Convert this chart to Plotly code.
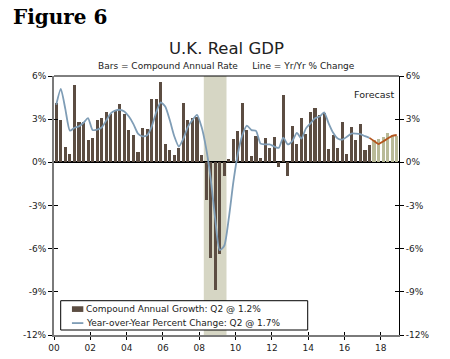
import plotly.graph_objects as go

# ---- data (quarterly, 2000Q1 .. 2018Q4) ----
years = list(range(2000, 2019))
quarters = [1, 2, 3, 4]
compound_annual = [
    4.1, 2.94, 1.1, 0.6,
    5.36, 2.78, 2.78, 1.58,
    1.67, 2.94, 3.06, 3.53,
    3.34, 3.65, 4.05, 3.34,
    2.24, 1.88, 0.73, 2.42,
    2.33, 4.38, 4.42, 5.58,
    1.29, 0.87, 0.54, 1.01,
    4.12, 2.96, 3.06, 3.18,
    0.54, -2.64, -6.68, -8.85,
    -6.4, -0.92, 0.24, 1.6,
    2.19, 4.13, 2.24, 0.42,
    1.8, 0.3, 1.72, 0.97,
    1.77, -0.35, 4.67, -0.94,
    2.52, 1.3, 3.07, 1.96,
    3.47, 3.77, 3.3, 3.42,
    0.94, 1.93, 1.01, 2.78,
    0.59, 2.43, 1.53, 2.67,
    0.83, 1.18, 1.58, 1.65,
    1.77, 2.05, 1.89, 1.84,
]
yoy = [
    4.0, 5.1, 3.7, 2.2,
    2.4, 2.5, 2.75, 3.08,
    2.24, 2.28, 2.42, 2.9,
    3.41, 3.6, 3.65, 3.53,
    3.18, 2.66, 2.0, 1.81,
    1.88, 2.47, 3.46, 4.16,
    3.88, 2.94, 1.81, 1.1,
    1.65, 2.47, 2.94, 3.3,
    2.47, 1.0, -1.1, -3.9,
    -6.1, -5.8, -3.9, -1.4,
    0.6, 1.9, 2.55, 2.24,
    2.19, 1.3, 1.25, 1.25,
    1.1, 1.0, 1.72, 1.25,
    1.48, 2.05, 1.65, 2.36,
    2.71, 3.07, 3.18, 3.47,
    2.71, 2.05, 1.65, 1.58,
    1.77, 2.0, 2.0, 1.96,
    1.82, 1.7, 1.48, 1.27,
    1.45, 1.65, 1.84, 1.9,
]
n_actual = 70  # last actual quarter: 2017Q2
recession = (2008.25, 2009.5)
tick_years = list(range(2000, 2019, 2))
tick_labels = [f"{y % 100:02d}" for y in tick_years]
y_ticks = [-12, -9, -6, -3, 0, 3, 6]
y_labels = [f"{v}%" for v in y_ticks]
legend_labels = ["Compound Annual Growth: Q2 @ 1.2%",
                 "Year-over-Year Percent Change: Q2 @ 1.7%"]

# quarter positions (mid-quarter, in years)
xq = [y + (q - 0.5) / 4 for y in years for q in quarters]

BAR = "#5c4d42"
BAR_F = "#b9ba98"
LINE = "#7f9db6"
LINE_F = "#b4561e"
SHADE = "#d6d6c4"
FONT = "DejaVu Sans"

fig = go.Figure()
fig.add_trace(go.Bar(x=xq[:n_actual], y=compound_annual[:n_actual], width=0.17,
                     marker=dict(color=BAR, line=dict(width=0)), name=legend_labels[0]))
fig.add_trace(go.Bar(x=xq[n_actual:], y=compound_annual[n_actual:], width=0.17,
                     marker=dict(color=BAR_F, line=dict(width=0))))
fig.add_trace(go.Scatter(x=xq[:n_actual], y=yoy[:n_actual], mode="lines",
                         line=dict(color=LINE, width=1.8, shape="spline", smoothing=0.6),
                         name=legend_labels[1]))
fig.add_trace(go.Scatter(x=xq[n_actual - 1:], y=yoy[n_actual - 1:], mode="lines",
                         line=dict(color=LINE_F, width=1.8, shape="spline", smoothing=0.6)))
# invisible traces to carry the inside-tick duplicate axes
for ya in ["y2", "y3", "y4"]:
    fig.add_trace(go.Scatter(x=[2000], y=[0], xaxis="x2", yaxis=ya, mode="markers",
                             marker=dict(opacity=0), hoverinfo="skip"))

fig.add_vrect(x0=recession[0], x1=recession[1], fillcolor=SHADE, line_width=0,
              layer="below", opacity=1)
# top border
fig.add_shape(type="line", xref="paper", yref="paper", x0=0, x1=1, y0=1, y1=1,
              line=dict(color="black", width=1))

# custom legend box (paper coordinates)
fig.add_shape(type="rect", xref="paper", yref="paper", x0=0.0194, x1=0.7354,
              y0=0.0193, y1=0.1324, line=dict(color="black", width=1), fillcolor="white",
              layer="above")
fig.add_shape(type="rect", xref="paper", yref="paper", x0=0.052, x1=0.085,
              y0=0.089, y1=0.111, line=dict(width=0), fillcolor=BAR, layer="above")
fig.add_shape(type="line", xref="paper", yref="paper", x0=0.052, x1=0.085,
              y0=0.046, y1=0.046, line=dict(color=LINE, width=1.8), layer="above")
fig.add_annotation(text=legend_labels[0], xref="paper", yref="paper", x=0.086, y=0.100,
                   xanchor="left", yanchor="middle", showarrow=False,
                   font=dict(family=FONT, size=9, color="#222"))
fig.add_annotation(text=legend_labels[1], xref="paper", yref="paper", x=0.086, y=0.046,
                   xanchor="left", yanchor="middle", showarrow=False,
                   font=dict(family=FONT, size=9, color="#222"))

tickfont = dict(family=FONT, size=9, color="#222")
xr = [2000, 2019]
yr = [-12, 6]
fig.update_layout(
    width=450, height=359,
    margin=dict(l=54, r=51, t=76, b=24, autoexpand=False),
    paper_bgcolor="white", plot_bgcolor="white",
    barmode="overlay", bargap=0, showlegend=False,
    font=dict(family=FONT, size=9, color="#222"),
    xaxis=dict(range=xr, tickvals=tick_years, ticktext=tick_labels, ticks="outside",
               ticklen=3, tickcolor="black", showline=True, linecolor="#7a7a7a",
               linewidth=2, showgrid=False, zeroline=False, tickfont=tickfont),
    xaxis2=dict(range=xr, overlaying="x", tickvals=tick_years, ticks="inside",
                ticklen=3, tickcolor="black", showticklabels=False, showline=False,
                showgrid=False, zeroline=False),
    yaxis=dict(range=yr, tickvals=y_ticks, ticktext=y_labels, ticks="outside",
               ticklen=4, tickcolor="black", showline=True, linecolor="#7a7a7a",
               linewidth=2, showgrid=False, zeroline=True, zerolinecolor="black",
               zerolinewidth=1.5, tickfont=tickfont),
    yaxis2=dict(range=yr, overlaying="y", side="right", tickvals=y_ticks,
                ticktext=y_labels, ticks="outside", ticklen=4, tickcolor="black",
                showline=True, linecolor="black", linewidth=1, showgrid=False,
                zeroline=False, tickfont=tickfont),
    yaxis3=dict(range=yr, overlaying="y", side="left", tickvals=y_ticks, ticks="inside",
                ticklen=4, tickcolor="black", showticklabels=False, showline=False,
                showgrid=False, zeroline=False),
    yaxis4=dict(range=yr, overlaying="y", side="right", tickvals=y_ticks, ticks="inside",
                ticklen=4, tickcolor="black", showticklabels=False, showline=False,
                showgrid=False, zeroline=False),
)

fig.add_annotation(text="<b>Figure 6</b>", xref="paper", yref="paper", x=-0.1235, y=1.28,
                   xanchor="left", yanchor="top", showarrow=False,
                   font=dict(family="DejaVu Serif", size=20, color="black"))
fig.add_annotation(text="U.K. Real GDP", xref="paper", yref="paper", x=0.501, y=1.108,
                   xanchor="center", yanchor="middle", showarrow=False,
                   font=dict(family=FONT, size=16.5, color="#222"))
fig.add_annotation(text="Bars = Compound Annual Rate&nbsp;&nbsp;&nbsp;&nbsp;&nbsp;Line = Yr/Yr % Change",
                   xref="paper", yref="paper", x=0.501, y=1.039,
                   xanchor="center", yanchor="middle", showarrow=False,
                   font=dict(family=FONT, size=9, color="#222"))
fig.add_annotation(text="Forecast", xref="paper", yref="paper", x=0.928, y=0.927,
                   xanchor="center", yanchor="middle", showarrow=False,
                   font=dict(family=FONT, size=9.5, color="#222"))

fig.write_html("out.html", config={"displayModeBar": False},
               post_script="document.body.style.margin='0';document.body.style.overflow='hidden';")
